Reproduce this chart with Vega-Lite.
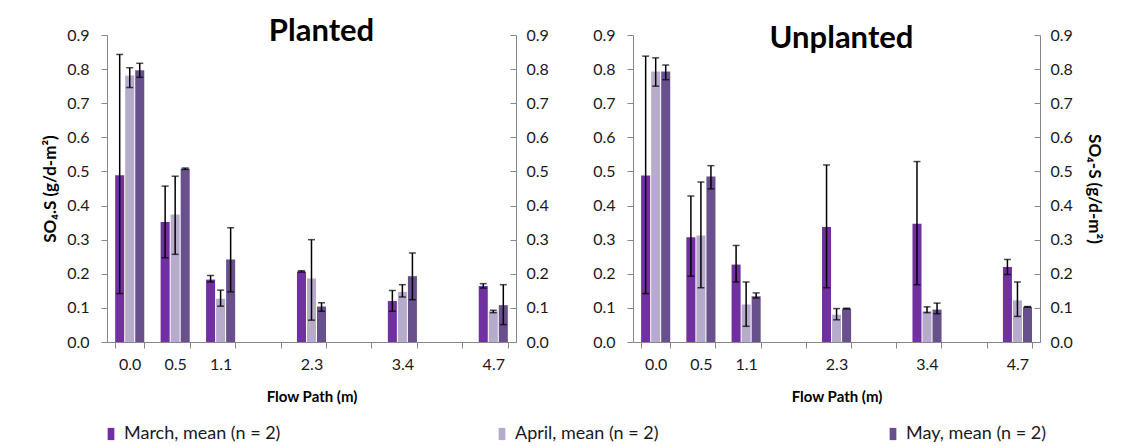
{
  "$schema": "https://vega.github.io/schema/vega-lite/v6.json",
  "padding": {"left": 41, "top": 16, "right": 5, "bottom": 5},
  "config": {
    "view": {"stroke": null},
    "font": "Lato",
    "axis": {"grid": false, "domainColor": "#888888", "tickColor": "#888888", "labelColor": "#1a1a1a", "labelFont": "Lato", "labelFontSize": 16},
    "concat": {"spacing": 43}
  },
  "data": {"values": [
    {"panel": "Planted", "dist": "0.0", "month": "March", "mean": 0.489, "lo": 0.142, "hi": 0.843},
    {"panel": "Planted", "dist": "0.0", "month": "April", "mean": 0.781, "lo": 0.746, "hi": 0.804},
    {"panel": "Planted", "dist": "0.0", "month": "May", "mean": 0.797, "lo": 0.776, "hi": 0.817},
    {"panel": "Planted", "dist": "0.5", "month": "March", "mean": 0.352, "lo": 0.247, "hi": 0.457},
    {"panel": "Planted", "dist": "0.5", "month": "April", "mean": 0.374, "lo": 0.257, "hi": 0.486},
    {"panel": "Planted", "dist": "0.5", "month": "May", "mean": 0.508, "lo": 0.506, "hi": 0.510},
    {"panel": "Planted", "dist": "1.1", "month": "March", "mean": 0.183, "lo": 0.176, "hi": 0.195},
    {"panel": "Planted", "dist": "1.1", "month": "April", "mean": 0.127, "lo": 0.105, "hi": 0.152},
    {"panel": "Planted", "dist": "1.1", "month": "May", "mean": 0.242, "lo": 0.147, "hi": 0.335},
    {"panel": "Planted", "dist": "2.3", "month": "March", "mean": 0.207, "lo": 0.205, "hi": 0.209},
    {"panel": "Planted", "dist": "2.3", "month": "April", "mean": 0.186, "lo": 0.064, "hi": 0.300},
    {"panel": "Planted", "dist": "2.3", "month": "May", "mean": 0.104, "lo": 0.090, "hi": 0.115},
    {"panel": "Planted", "dist": "3.4", "month": "March", "mean": 0.120, "lo": 0.090, "hi": 0.151},
    {"panel": "Planted", "dist": "3.4", "month": "April", "mean": 0.147, "lo": 0.132, "hi": 0.168},
    {"panel": "Planted", "dist": "3.4", "month": "May", "mean": 0.193, "lo": 0.124, "hi": 0.261},
    {"panel": "Planted", "dist": "4.7", "month": "March", "mean": 0.164, "lo": 0.158, "hi": 0.171},
    {"panel": "Planted", "dist": "4.7", "month": "April", "mean": 0.090, "lo": 0.086, "hi": 0.093},
    {"panel": "Planted", "dist": "4.7", "month": "May", "mean": 0.108, "lo": 0.051, "hi": 0.168},
    {"panel": "Unplanted", "dist": "0.0", "month": "March", "mean": 0.488, "lo": 0.142, "hi": 0.838},
    {"panel": "Unplanted", "dist": "0.0", "month": "April", "mean": 0.793, "lo": 0.750, "hi": 0.833},
    {"panel": "Unplanted", "dist": "0.0", "month": "May", "mean": 0.793, "lo": 0.769, "hi": 0.812},
    {"panel": "Unplanted", "dist": "0.5", "month": "March", "mean": 0.307, "lo": 0.193, "hi": 0.428},
    {"panel": "Unplanted", "dist": "0.5", "month": "April", "mean": 0.312, "lo": 0.159, "hi": 0.469},
    {"panel": "Unplanted", "dist": "0.5", "month": "May", "mean": 0.485, "lo": 0.449, "hi": 0.517},
    {"panel": "Unplanted", "dist": "1.1", "month": "March", "mean": 0.227, "lo": 0.176, "hi": 0.283},
    {"panel": "Unplanted", "dist": "1.1", "month": "April", "mean": 0.110, "lo": 0.046, "hi": 0.176},
    {"panel": "Unplanted", "dist": "1.1", "month": "May", "mean": 0.134, "lo": 0.129, "hi": 0.144},
    {"panel": "Unplanted", "dist": "2.3", "month": "March", "mean": 0.337, "lo": 0.159, "hi": 0.519},
    {"panel": "Unplanted", "dist": "2.3", "month": "April", "mean": 0.080, "lo": 0.065, "hi": 0.098},
    {"panel": "Unplanted", "dist": "2.3", "month": "May", "mean": 0.098, "lo": 0.097, "hi": 0.099},
    {"panel": "Unplanted", "dist": "3.4", "month": "March", "mean": 0.347, "lo": 0.168, "hi": 0.529},
    {"panel": "Unplanted", "dist": "3.4", "month": "April", "mean": 0.090, "lo": 0.086, "hi": 0.103},
    {"panel": "Unplanted", "dist": "3.4", "month": "May", "mean": 0.095, "lo": 0.083, "hi": 0.114},
    {"panel": "Unplanted", "dist": "4.7", "month": "March", "mean": 0.220, "lo": 0.198, "hi": 0.242},
    {"panel": "Unplanted", "dist": "4.7", "month": "April", "mean": 0.122, "lo": 0.075, "hi": 0.176},
    {"panel": "Unplanted", "dist": "4.7", "month": "May", "mean": 0.103, "lo": 0.102, "hi": 0.104}
  ]},
  "hconcat": [
    {
      "width": 409, "height": 307,
      "title": {"text": "Planted", "fontSize": 31, "fontWeight": "bold", "font": "Lato", "color": "black", "anchor": "middle", "dx": 10, "offset": -45, "baseline": "alphabetic"},
      "transform": [{"filter": "datum.panel === 'Planted'"}],
      "layer": [
        {
          "mark": {"type": "bar"},
          "encoding": {
            "x": {"field": "dist", "type": "nominal", "sort": null, "scale": {"domain": ["0.0", "0.5", "1.1", " ", "2.3", "  ", "3.4", "   ", "4.7"], "paddingInner": 0.36, "paddingOuter": 0.18}, "axis": {"tickBand": "extent", "labelAngle": 0, "tickSize": 6, "labelPadding": 8, "title": "Flow Path (m)", "titleFont": "Lato", "titleFontSize": 15, "titleFontWeight": "bold", "titleColor": "black", "titlePadding": 17}},
            "xOffset": {"field": "month", "type": "nominal", "sort": ["March", "April", "May"], "scale": {"paddingInner": 0.1, "paddingOuter": 0}},
            "y": {"field": "mean", "type": "quantitative", "scale": {"domain": [0, 0.9], "nice": false}, "axis": {"orient": "left", "values": [0, 0.1, 0.2, 0.3, 0.4, 0.5, 0.6, 0.7, 0.8, 0.9], "format": ".1f", "tickSize": 6, "labelPadding": 12, "title": "SO₄.S (g/d-m²)", "titleFontSize": 17, "titleFontWeight": "bold", "titleColor": "black", "titlePadding": 7}},
            "color": {"field": "month", "type": "nominal", "scale": {"domain": ["March", "April", "May"], "range": ["#7030A0", "#B7ABCB", "#68508C"]}, "legend": {"orient": "none", "legendX": -5, "legendY": 390, "direction": "horizontal", "columns": 3, "gridAlign": "all", "columnPadding": 212, "title": null, "symbolType": "M-0.55,-1H0.55V1H-0.55Z", "symbolSize": 150, "symbolStrokeWidth": 0, "labelFont": "Lato", "labelFontSize": 18, "labelColor": "#1a1a1a", "labelExpr": "datum.label + ', mean (n = 2)'", "labelLimit": 300}}
          }
        },
        {
          "mark": {"type": "rule", "color": "black", "strokeWidth": 1.5},
          "encoding": {
            "x": {"field": "dist", "type": "nominal", "sort": null, "scale": {"domain": ["0.0", "0.5", "1.1", " ", "2.3", "  ", "3.4", "   ", "4.7"], "paddingInner": 0.36, "paddingOuter": 0.18}, "axis": {"tickBand": "extent", "labelAngle": 0, "tickSize": 6, "labelPadding": 8, "title": "Flow Path (m)", "titleFont": "Lato", "titleFontSize": 15, "titleFontWeight": "bold", "titleColor": "black", "titlePadding": 17}},
            "xOffset": {"field": "month", "type": "nominal", "sort": ["March", "April", "May"], "scale": {"paddingInner": 0.1, "paddingOuter": 0}},
            "y": {"field": "lo", "type": "quantitative", "scale": {"domain": [0, 0.9], "nice": false}, "axis": {"orient": "right", "values": [0, 0.1, 0.2, 0.3, 0.4, 0.5, 0.6, 0.7, 0.8, 0.9], "format": ".1f", "tickSize": -6, "labelPadding": 16, "title": null}},
            "y2": {"field": "hi"}
          }
        },
        {
          "mark": {"type": "tick", "color": "black", "thickness": 1.5, "size": 7, "orient": "horizontal"},
          "encoding": {
            "x": {"field": "dist", "type": "nominal", "sort": null, "scale": {"domain": ["0.0", "0.5", "1.1", " ", "2.3", "  ", "3.4", "   ", "4.7"], "paddingInner": 0.36, "paddingOuter": 0.18}, "axis": {"tickBand": "extent", "labelAngle": 0, "tickSize": 6, "labelPadding": 8, "title": "Flow Path (m)", "titleFont": "Lato", "titleFontSize": 15, "titleFontWeight": "bold", "titleColor": "black", "titlePadding": 17}},
            "xOffset": {"field": "month", "type": "nominal", "sort": ["March", "April", "May"], "scale": {"paddingInner": 0.1, "paddingOuter": 0}},
            "y": {"field": "lo", "type": "quantitative", "scale": {"domain": [0, 0.9], "nice": false}, "axis": null}
          }
        },
        {
          "mark": {"type": "tick", "color": "black", "thickness": 1.5, "size": 7, "orient": "horizontal"},
          "encoding": {
            "x": {"field": "dist", "type": "nominal", "sort": null, "scale": {"domain": ["0.0", "0.5", "1.1", " ", "2.3", "  ", "3.4", "   ", "4.7"], "paddingInner": 0.36, "paddingOuter": 0.18}, "axis": {"tickBand": "extent", "labelAngle": 0, "tickSize": 6, "labelPadding": 8, "title": "Flow Path (m)", "titleFont": "Lato", "titleFontSize": 15, "titleFontWeight": "bold", "titleColor": "black", "titlePadding": 17}},
            "xOffset": {"field": "month", "type": "nominal", "sort": ["March", "April", "May"], "scale": {"paddingInner": 0.1, "paddingOuter": 0}},
            "y": {"field": "hi", "type": "quantitative", "scale": {"domain": [0, 0.9], "nice": false}, "axis": null}
          }
        }
      ],
      "resolve": {"scale": {"y": "independent"}}
    },
    {
      "width": 407, "height": 307,
      "title": {"text": "Unplanted", "fontSize": 31, "fontWeight": "bold", "font": "Lato", "color": "black", "anchor": "middle", "dx": 5, "offset": -52, "baseline": "alphabetic"},
      "transform": [{"filter": "datum.panel === 'Unplanted'"}],
      "layer": [
        {
          "mark": {"type": "bar"},
          "encoding": {
            "x": {"field": "dist", "type": "nominal", "sort": null, "scale": {"domain": ["0.0", "0.5", "1.1", " ", "2.3", "  ", "3.4", "   ", "4.7"], "paddingInner": 0.36, "paddingOuter": 0.18}, "axis": {"tickBand": "extent", "labelAngle": 0, "tickSize": 6, "labelPadding": 8, "title": "Flow Path (m)", "titleFont": "Lato", "titleFontSize": 15, "titleFontWeight": "bold", "titleColor": "black", "titlePadding": 17}},
            "xOffset": {"field": "month", "type": "nominal", "sort": ["March", "April", "May"], "scale": {"paddingInner": 0.1, "paddingOuter": 0}},
            "y": {"field": "mean", "type": "quantitative", "scale": {"domain": [0, 0.9], "nice": false}, "axis": {"orient": "left", "values": [0, 0.1, 0.2, 0.3, 0.4, 0.5, 0.6, 0.7, 0.8, 0.9], "format": ".1f", "tickSize": 6, "labelPadding": 12, "title": null}},
            "color": {"field": "month", "type": "nominal", "scale": {"domain": ["March", "April", "May"], "range": ["#7030A0", "#B7ABCB", "#68508C"]}}
          }
        },
        {
          "mark": {"type": "rule", "color": "black", "strokeWidth": 1.5},
          "encoding": {
            "x": {"field": "dist", "type": "nominal", "sort": null, "scale": {"domain": ["0.0", "0.5", "1.1", " ", "2.3", "  ", "3.4", "   ", "4.7"], "paddingInner": 0.36, "paddingOuter": 0.18}, "axis": {"tickBand": "extent", "labelAngle": 0, "tickSize": 6, "labelPadding": 8, "title": "Flow Path (m)", "titleFont": "Lato", "titleFontSize": 15, "titleFontWeight": "bold", "titleColor": "black", "titlePadding": 17}},
            "xOffset": {"field": "month", "type": "nominal", "sort": ["March", "April", "May"], "scale": {"paddingInner": 0.1, "paddingOuter": 0}},
            "y": {"field": "lo", "type": "quantitative", "scale": {"domain": [0, 0.9], "nice": false}, "axis": {"orient": "right", "values": [0, 0.1, 0.2, 0.3, 0.4, 0.5, 0.6, 0.7, 0.8, 0.9], "format": ".1f", "tickSize": -6, "labelPadding": 16, "title": "SO₄-S (g/d-m²)", "titleFontSize": 17, "titleFontWeight": "bold", "titleColor": "black", "titlePadding": 12}},
            "y2": {"field": "hi"}
          }
        },
        {
          "mark": {"type": "tick", "color": "black", "thickness": 1.5, "size": 7, "orient": "horizontal"},
          "encoding": {
            "x": {"field": "dist", "type": "nominal", "sort": null, "scale": {"domain": ["0.0", "0.5", "1.1", " ", "2.3", "  ", "3.4", "   ", "4.7"], "paddingInner": 0.36, "paddingOuter": 0.18}, "axis": {"tickBand": "extent", "labelAngle": 0, "tickSize": 6, "labelPadding": 8, "title": "Flow Path (m)", "titleFont": "Lato", "titleFontSize": 15, "titleFontWeight": "bold", "titleColor": "black", "titlePadding": 17}},
            "xOffset": {"field": "month", "type": "nominal", "sort": ["March", "April", "May"], "scale": {"paddingInner": 0.1, "paddingOuter": 0}},
            "y": {"field": "lo", "type": "quantitative", "scale": {"domain": [0, 0.9], "nice": false}, "axis": null}
          }
        },
        {
          "mark": {"type": "tick", "color": "black", "thickness": 1.5, "size": 7, "orient": "horizontal"},
          "encoding": {
            "x": {"field": "dist", "type": "nominal", "sort": null, "scale": {"domain": ["0.0", "0.5", "1.1", " ", "2.3", "  ", "3.4", "   ", "4.7"], "paddingInner": 0.36, "paddingOuter": 0.18}, "axis": {"tickBand": "extent", "labelAngle": 0, "tickSize": 6, "labelPadding": 8, "title": "Flow Path (m)", "titleFont": "Lato", "titleFontSize": 15, "titleFontWeight": "bold", "titleColor": "black", "titlePadding": 17}},
            "xOffset": {"field": "month", "type": "nominal", "sort": ["March", "April", "May"], "scale": {"paddingInner": 0.1, "paddingOuter": 0}},
            "y": {"field": "hi", "type": "quantitative", "scale": {"domain": [0, 0.9], "nice": false}, "axis": null}
          }
        }
      ],
      "resolve": {"scale": {"y": "independent"}}
    }
  ]
}
